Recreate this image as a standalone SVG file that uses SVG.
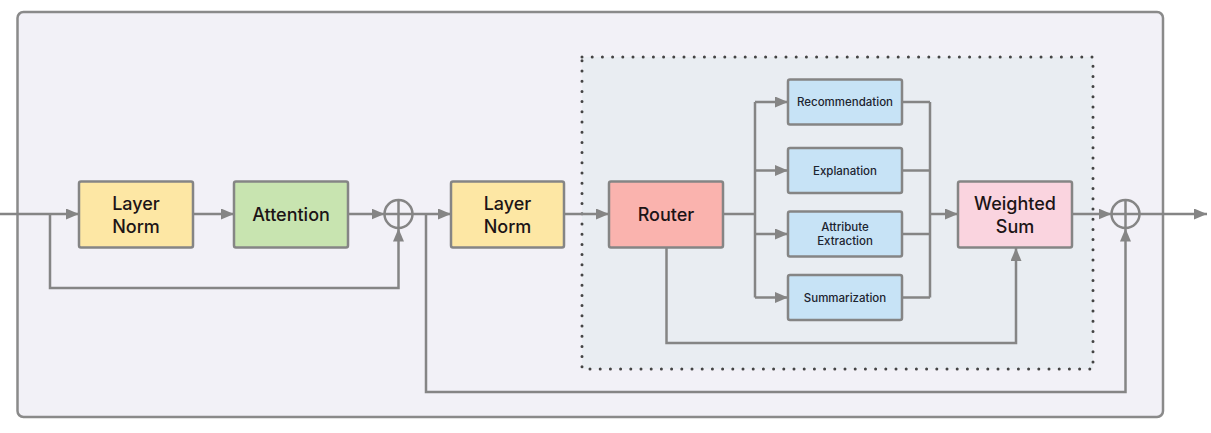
<svg xmlns="http://www.w3.org/2000/svg" width="1211" height="433" viewBox="0 0 1211 433">
<defs>
<marker id="ah" viewBox="0 0 13 11" refX="13" refY="5.5" markerWidth="13" markerHeight="11" markerUnits="userSpaceOnUse" orient="auto">
<path d="M0,0 L13,5.5 L0,11 z" fill="#858585"/>
</marker>
<style>
.node{stroke:#858585;stroke-width:2.5}
.lbl{font-family:Inter,"Liberation Sans",sans-serif;font-size:18px;font-weight:500;fill:#1c1416;text-anchor:middle}
.sm{font-family:Inter,"Liberation Sans",sans-serif;font-size:11.5px;font-weight:500;fill:#1c2430;text-anchor:middle}
.ln{fill:none;stroke:#858585;stroke-width:2.5}
.ar{fill:none;stroke:#858585;stroke-width:2.5;marker-end:url(#ah)}
.yellow{fill:#fde7a4}.green{fill:#c8e4b0}.red{fill:#fab3ae}.pink{fill:#fad4df}.blue{fill:#c7e3f6}
</style>
</defs>
<rect width="1211" height="433" fill="#ffffff"/>
<rect id="frame" x="17.5" y="12" width="1145.5" height="405" rx="6" fill="#f2f1f7" stroke="#8a8a8a" stroke-width="2.5"/>
<rect id="moe" x="582" y="57" width="511" height="312" fill="#e9edf2" stroke="#444" stroke-width="3" stroke-dasharray="0 10.2" stroke-linecap="round"/>

<g id="connectors">
<line class="ar" x1="0" y1="214" x2="79" y2="214"/>
<line class="ar" x1="193" y1="214" x2="234" y2="214"/>
<line class="ar" x1="348" y1="214" x2="384.5" y2="214"/>
<line class="ar" x1="412" y1="214" x2="451" y2="214"/>
<line class="ar" x1="564" y1="214" x2="609" y2="214"/>
<line class="ln" x1="723" y1="214" x2="755" y2="214"/>
<line class="ln" x1="755" y1="102" x2="755" y2="297.5"/>
<line class="ar" x1="755" y1="102" x2="788" y2="102"/>
<line class="ar" x1="755" y1="170.5" x2="788" y2="170.5"/>
<line class="ar" x1="755" y1="234" x2="788" y2="234"/>
<line class="ar" x1="755" y1="297.5" x2="788" y2="297.5"/>
<line class="ln" x1="902" y1="102" x2="930" y2="102"/>
<line class="ln" x1="902" y1="170.5" x2="930" y2="170.5"/>
<line class="ln" x1="902" y1="234" x2="930" y2="234"/>
<line class="ln" x1="902" y1="297.5" x2="930" y2="297.5"/>
<line class="ln" x1="930" y1="102" x2="930" y2="297.5"/>
<line class="ar" x1="930" y1="214" x2="958" y2="214"/>
<line class="ar" x1="1072" y1="214" x2="1111.5" y2="214"/>
<line class="ar" x1="1139.5" y1="214" x2="1207" y2="214"/>
<polyline class="ar" points="50,214 50,288 398.5,288 398.5,228.5"/>
<polyline class="ar" points="426,214 426,392 1125.5,392 1125.5,228.5"/>
<polyline class="ar" points="666.5,248 666.5,343 1016,343 1016,248"/>
</g>

<g id="ln1"><rect class="node yellow" x="79" y="181.5" width="114" height="66" rx="2"/>
<text class="lbl" x="136" y="210">Layer</text><text class="lbl" x="136" y="233">Norm</text></g>
<g id="attention"><rect class="node green" x="234" y="181.5" width="114" height="66" rx="2"/>
<text class="lbl" x="291" y="221">Attention</text></g>
<g id="sum1"><circle cx="398.5" cy="214" r="14" fill="none" stroke="#858585" stroke-width="2.5"/>
<line class="ln" x1="384.5" y1="214" x2="412.5" y2="214"/><line class="ln" x1="398.5" y1="200" x2="398.5" y2="228"/></g>
<g id="ln2"><rect class="node yellow" x="451" y="181.5" width="113" height="66" rx="2"/>
<text class="lbl" x="507.5" y="210">Layer</text><text class="lbl" x="507.5" y="233">Norm</text></g>
<g id="router"><rect class="node red" x="609" y="181.5" width="114" height="66" rx="2"/>
<text class="lbl" x="666" y="221">Router</text></g>
<g id="rec"><rect class="node blue" x="788" y="79.5" width="114" height="45" rx="2"/>
<text class="sm" x="845" y="106">Recommendation</text></g>
<g id="exp"><rect class="node blue" x="788" y="148" width="114" height="45" rx="2"/>
<text class="sm" x="845" y="174.5">Explanation</text></g>
<g id="attr"><rect class="node blue" x="788" y="211.5" width="114" height="45" rx="2"/>
<text class="sm" x="845" y="231">Attribute</text><text class="sm" x="845" y="245">Extraction</text></g>
<g id="summ"><rect class="node blue" x="788" y="275" width="114" height="45" rx="2"/>
<text class="sm" x="845" y="301.5">Summarization</text></g>
<g id="wsum"><rect class="node pink" x="958" y="181.5" width="114" height="66" rx="2"/>
<text class="lbl" x="1015" y="210">Weighted</text><text class="lbl" x="1015" y="233">Sum</text></g>
<g id="sum2"><circle cx="1125.5" cy="214" r="14" fill="none" stroke="#858585" stroke-width="2.5"/>
<line class="ln" x1="1111.5" y1="214" x2="1139.5" y2="214"/><line class="ln" x1="1125.5" y1="200" x2="1125.5" y2="228"/></g>
</svg>
